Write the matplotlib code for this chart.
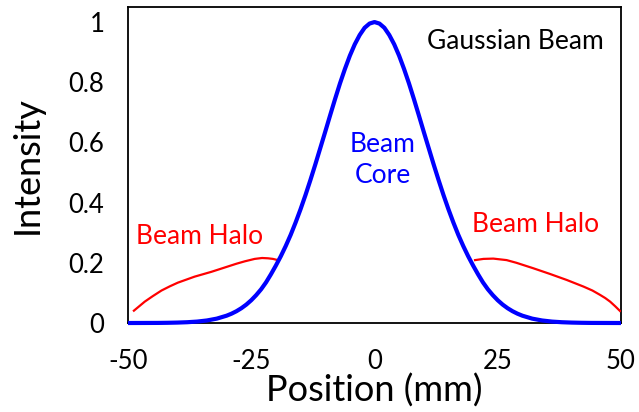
import matplotlib.pyplot as plt

plt.rcParams['font.family'] = ['Lato', 'DejaVu Sans']

# Beam core profile (normalised intensity vs position in mm)
core_pos = [-50, -48, -46, -44, -42, -40, -38, -36, -34, -32,
            -30, -29, -28, -27, -26, -25, -24, -23, -22, -21,
            -20, -19, -18, -17, -16, -15, -14, -13, -12, -11,
            -10, -9, -8, -7, -6, -5, -4, -3, -2, -1, 0,
            1, 2, 3, 4, 5, 6, 7, 8, 9, 10,
            11, 12, 13, 14, 15, 16, 17, 18, 19, 20,
            21, 22, 23, 24, 25, 26, 27, 28, 29, 30,
            32, 34, 36, 38, 40, 42, 44, 46, 48, 50]
core_int = [0.0, 0.0001, 0.0002, 0.0003, 0.0007, 0.0014, 0.0026, 0.0047, 0.0084, 0.0145,
            0.0243, 0.0310, 0.0392, 0.0492, 0.0612, 0.0756, 0.0926, 0.112, 0.135, 0.162,
            0.191, 0.222, 0.256, 0.293, 0.334, 0.378, 0.425, 0.475, 0.527, 0.581,
            0.635, 0.690, 0.744, 0.796, 0.844, 0.888, 0.926, 0.957, 0.981, 0.995, 1.0,
            0.995, 0.981, 0.957, 0.926, 0.888, 0.844, 0.796, 0.744, 0.690, 0.635,
            0.581, 0.527, 0.475, 0.425, 0.378, 0.334, 0.293, 0.256, 0.222, 0.191,
            0.162, 0.135, 0.112, 0.0926, 0.0756, 0.0612, 0.0492, 0.0392, 0.0310, 0.0243,
            0.0145, 0.0084, 0.0047, 0.0026, 0.0014, 0.0007, 0.0003, 0.0002, 0.0001, 0.0]

# Halo wings on either side of the core
halo_left_pos = [-48.8, -47.7, -46.6, -45.0, -43.2, -41.5, -39.9, -38.2, -36.5, -34.8,
                 -33.1, -31.4, -29.7, -28.0, -26.3, -24.3, -22.8, -21.6, -20.6, -19.6]
halo_left_int = [0.041, 0.056, 0.071, 0.089, 0.108, 0.122, 0.134, 0.144, 0.154, 0.162,
                 0.170, 0.179, 0.188, 0.197, 0.205, 0.213, 0.216, 0.215, 0.213, 0.209]

halo_right_pos = [20.4, 22.1, 24.1, 26.8, 28.8, 30.5, 32.2, 35.6, 39.0, 42.4,
                  44.2, 45.7, 46.8, 47.8, 48.8, 49.8]
halo_right_int = [0.209, 0.213, 0.214, 0.209, 0.200, 0.191, 0.182, 0.163, 0.143, 0.121,
                  0.108, 0.094, 0.083, 0.071, 0.056, 0.040]

x_ticks = [-50, -25, 0, 25, 50]
y_ticks = [0, 0.2, 0.4, 0.6, 0.8, 1]
y_tick_labels = ['0', '0.2', '0.4', '0.6', '0.8', '1']

fig = plt.figure(figsize=(6.39, 4.12), dpi=100)
ax = fig.add_axes([0.2003, 0.216, 0.7715, 0.767])

ax.plot(halo_left_pos, halo_left_int, color='#ff0000', lw=1.6, zorder=3,
        solid_joinstyle='round')
ax.plot(halo_right_pos, halo_right_int, color='#ff0000', lw=1.6, zorder=3,
        solid_joinstyle='round')
ax.plot(core_pos, core_int, color='#0000ff', lw=3.0, zorder=5, clip_on=False,
        solid_capstyle='butt', solid_joinstyle='round')

ax.set_xlim(-50, 50)
ax.set_ylim(0, 1.05)
ax.set_xticks(x_ticks)
ax.set_xticklabels([str(v) for v in x_ticks])
ax.set_yticks(y_ticks)
ax.set_yticklabels(y_tick_labels)
ax.tick_params(axis='both', length=0, labelsize=18.5)
ax.tick_params(axis='y', pad=17)
ax.tick_params(axis='x', pad=19)

for sp in ax.spines.values():
    sp.set_linewidth(1.3)
    sp.set_color('black')

ax.set_xlabel('Position (mm)', fontsize=26)
ax.set_ylabel('Intensity', fontsize=26)
ax.xaxis.set_label_coords(0.5, -0.215)
ax.yaxis.set_label_coords(-0.205, 0.5)
ax.xaxis.label.set_va('center')
ax.yaxis.label.set_va('center')

ax.text(28.5, 0.934, 'Gaussian Beam', fontsize=19, color='black',
        ha='center', va='center')
ax.text(1.7, 0.54, 'Beam\nCore', fontsize=19, color='#0000ff',
        ha='center', va='center', linespacing=1.3)
ax.text(-35.4, 0.286, 'Beam Halo', fontsize=19, color='#ff0000',
        ha='center', va='center')
ax.text(32.6, 0.326, 'Beam Halo', fontsize=19, color='#ff0000',
        ha='center', va='center')

fig.savefig('out.png', dpi=100)
